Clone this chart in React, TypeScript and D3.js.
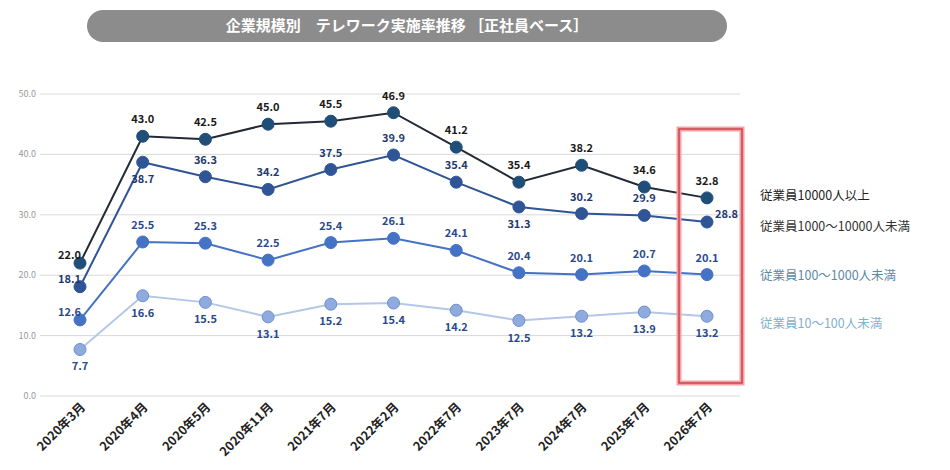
import React from 'react';
import * as d3 from 'd3';

const categories = ['2020年3月', '2020年4月', '2020年5月', '2020年11月', '2021年7月', '2022年2月', '2022年7月', '2023年7月', '2024年7月', '2025年7月', '2026年7月'];
const s10000 = [22.0, 43.0, 42.5, 45.0, 45.5, 46.9, 41.2, 35.4, 38.2, 34.6, 32.8];
const s1000 = [18.1, 38.7, 36.3, 34.2, 37.5, 39.9, 35.4, 31.3, 30.2, 29.9, 28.8];
const s100 = [12.6, 25.5, 25.3, 22.5, 25.4, 26.1, 24.1, 20.4, 20.1, 20.7, 20.1];
const s10 = [7.7, 16.6, 15.5, 13.1, 15.2, 15.4, 14.2, 12.5, 13.2, 13.9, 13.2];
// label placement: a = above, b = below, l = left, r = right-above
const pos1000 = ['l', 'b', 'a', 'a', 'a', 'a', 'a', 'b', 'a', 'a', 'r'];
const yTicks = [0, 10, 20, 30, 40, 50];

const series = [
  { name: '従業員10000人以上', values: s10000, line: '#222a35', dot: '#1f4e79', stroke: '#1f4e79', label: '#1a1a1a', legend: '#222', legendY: 195, pos: s10000.map((_, i) => (i === 0 ? 'l' : 'a')) },
  { name: '従業員1000～10000人未満', values: s1000, line: '#2f5597', dot: '#2f5597', stroke: '#2f5597', label: '#1f3a6e', legend: '#333', legendY: 226, pos: pos1000 },
  { name: '従業員100～1000人未満', values: s100, line: '#4472c4', dot: '#4472c4', stroke: '#4472c4', label: '#2a4a8c', legend: '#5b8aa6', legendY: 275, pos: s100.map((_, i) => (i === 0 ? 'l' : 'a')) },
  { name: '従業員10～100人未満', values: s10, line: '#b4c7e7', dot: '#8faadc', stroke: '#6d8fd0', label: '#2a4a8c', legend: '#7fb0cc', legendY: 323, pos: s10.map(() => 'b') },
];

export default function App() {
  const x = d3.scalePoint<string>().domain(categories).range([80, 707]);
  const y = d3.scaleLinear().domain([0, 50]).range([396, 94]);
  const font = '"Noto Sans CJK JP", "Noto Sans", sans-serif';
  const line = (vals: number[]) => d3.line<number>().x((_, i) => x(categories[i])!).y(d => y(d))(vals)!;
  return (
    <svg width={950} height={470} style={{ position: 'absolute', left: 0, top: 0, background: '#fff' }} fontFamily={font}>
      <rect x={87} y={10} width={640} height={32} rx={16} fill="#8c8c8c" />
      <text x={407} y={31} textAnchor="middle" fill="#fff" fontSize={15} fontWeight="bold">企業規模別　テレワーク実施率推移 ［正社員ベース］</text>
      {yTicks.map(t => (
        <g key={t}>
          <line x1={40} x2={740} y1={y(t)} y2={y(t)} stroke="#d9d9d9" />
          <text x={36} y={y(t) + 3} textAnchor="end" fontSize={9} fill="#999">{t.toFixed(1)}</text>
        </g>
      ))}
      {categories.map(c => (
        <text key={c} transform={`translate(${x(c)! + 6},${408}) rotate(-45)`} textAnchor="end" fontSize={12.5} fontWeight="bold" fill="#222">{c}</text>
      ))}
      {series.slice().reverse().map(s => (
        <g key={s.name}>
          <path d={line(s.values)} fill="none" stroke={s.line} strokeWidth={2} />
          {s.values.map((v, i) => (
            <circle key={i} cx={x(categories[i])} cy={y(v)} r={6} fill={s.dot} stroke={s.stroke} strokeWidth={1} />
          ))}
        </g>
      ))}
      {series.map(s => s.values.map((v, i) => {
        const cx = x(categories[i])!, cy = y(v), p = s.pos[i];
        let tx = cx, ty = cy - 13, anchor = 'middle';
        if (p === 'b') ty = cy + 21;
        if (p === 'l') { tx = cx + 1; ty = cy - 4; anchor = 'end'; }
        if (p === 'r') { tx = cx + 8; ty = cy - 4; anchor = 'start'; }
        return <text key={s.name + i} x={tx} y={ty} textAnchor={anchor} fontSize={11} fontWeight="bold" fill={s.label}>{v.toFixed(1)}</text>;
      }))}
      {series.map(s => (
        <text key={s.name} x={760} y={s.legendY + 5} fontSize={12.5} fill={s.legend}>{s.name}</text>
      ))}
      <rect x={679} y={129} width={63} height={254} fill="none" stroke="#f4a0a4" strokeWidth={5} />
      <rect x={679} y={129} width={63} height={254} fill="none" stroke="#c0303a" strokeWidth={1.2} />
    </svg>
  );
}
